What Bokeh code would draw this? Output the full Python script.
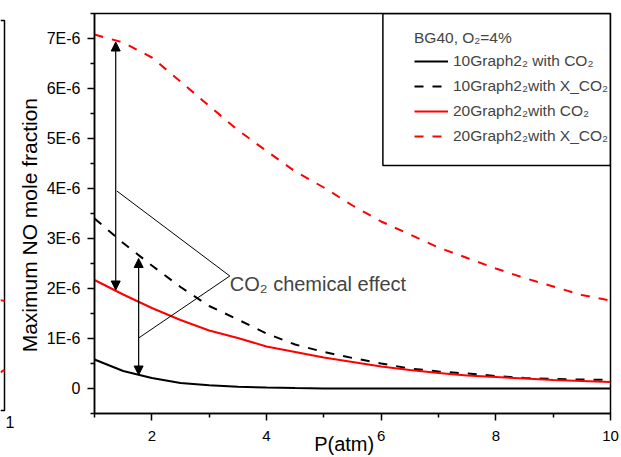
import math
from bokeh.plotting import figure
from bokeh.models import (Range1d, FixedTicker, Arrow, NormalHead, Legend, Label,
                          LegendItem, BoxAnnotation, LinearAxis)
from bokeh.layouts import row
from bokeh.embed import file_html
from bokeh.resources import INLINE

FONT = "Liberation Sans"
NBSP = "\u00a0"

# ---------------- data (NO mole fraction in units of 1E-6) ----------------
pressure_atm = [1.0, 1.5, 2.0, 2.5, 3.0, 3.5, 4.0, 4.5, 5.0, 5.5,
                6.0, 6.5, 7.0, 7.5, 8.0, 8.5, 9.0, 9.5, 10.0]
no_10g_co2 = [0.58, 0.35, 0.21, 0.11, 0.065, 0.035, 0.02, 0.008, 0.0, 0.0,
              0.0, 0.0, 0.0, 0.0, 0.0, 0.0, 0.0, 0.0, 0.0]
no_10g_xco2 = [3.40, 2.91, 2.46, 2.03, 1.65, 1.38, 1.10, 0.88, 0.73, 0.61,
               0.50, 0.40, 0.34, 0.30, 0.25, 0.21, 0.19, 0.18, 0.17]
no_20g_co2 = [2.17, 1.88, 1.61, 1.37, 1.16, 1.01, 0.84, 0.73, 0.62, 0.53,
              0.44, 0.37, 0.31, 0.26, 0.23, 0.20, 0.17, 0.15, 0.13]
no_20g_xco2 = [7.08, 6.92, 6.62, 6.14, 5.65, 5.17, 4.75, 4.34, 4.02, 3.66,
               3.34, 3.08, 2.82, 2.61, 2.40, 2.21, 2.04, 1.87, 1.76]

series_labels = ["10Graph2\u2082 with CO\u2082", "10Graph2\u2082with X_CO\u2082",
                 "20Graph2\u2082with CO\u2082", "20Graph2\u2082with X_CO\u2082"]
legend_title = "BG40, O\u2082=4%"
x_title = "P(atm)"
y_title = "Maximum NO mole fraction"

x_ticks = [2, 4, 6, 8, 10]
x_tick_labels = ["2", "4", "6", "8", "10"]
x_minor_ticks = [1, 3, 5, 7, 9]
y_ticks = [0, 1, 2, 3, 4, 5, 6, 7]
y_tick_labels = ["0", "1E-6", "2E-6", "3E-6", "4E-6", "5E-6", "6E-6", "7E-6"]
y_minor_ticks = [-0.5, 0.5, 1.5, 2.5, 3.5, 4.5, 5.5, 6.5, 7.5]

# neighbouring panel fragment (only its right edge is visible; y normalised 0..1 on its frame)
nb_frame_x = [9.92, 10.0, 10.0, 9.92]
nb_frame_y = [1.0, 1.0, 0.0, 0.0]
nb_ticks = [10]
nb_tick_labels = ["10"]
nb_x = [9.92, 10.0]
nb_red_upper = [0.283, 0.281]
nb_red_lower = [0.098, 0.104]

# ---------------- main figure ----------------
p = figure(width=607, height=457, x_range=Range1d(1, 10), y_range=Range1d(-0.5, 7.5),
           output_backend="svg", toolbar_location=None,
           min_border_left=77, min_border_right=11, min_border_top=13, min_border_bottom=44,
           background_fill_color="white", border_fill_color="white")
p.outline_line_color = "black"
p.outline_line_width = 1.5
p.grid.visible = False

p.xaxis.ticker = FixedTicker(ticks=x_ticks, minor_ticks=x_minor_ticks)
p.xaxis.major_label_overrides = dict(zip(x_ticks, x_tick_labels))
p.yaxis.ticker = FixedTicker(ticks=y_ticks, minor_ticks=y_minor_ticks)
p.yaxis.major_label_overrides = dict(zip(y_ticks, y_tick_labels))
for ax in (p.xaxis[0], p.yaxis[0]):
    ax.axis_line_width = 1.5
    ax.major_tick_line_width = 1.5
    ax.minor_tick_line_width = 1.5
    ax.major_tick_out = 7
    ax.major_tick_in = 0
    ax.minor_tick_out = 4
    ax.minor_tick_in = 0
    ax.major_label_text_font = FONT
    ax.major_label_text_color = "black"
    ax.axis_label_text_font = FONT
    ax.axis_label_text_font_style = "normal"
    ax.axis_label_text_color = "black"
p.xaxis.major_label_text_font_size = "15px"
p.yaxis.major_label_text_font_size = "16px"
p.xaxis.major_label_standoff = 10
p.yaxis.major_label_standoff = 7

# axis titles (non-breaking spaces shift the visible text off-centre as in the original)
p.xaxis.axis_label = x_title + NBSP * 3
p.xaxis.axis_label_text_font_size = "20px"
p.xaxis.axis_label_standoff = -11
p.yaxis.axis_label = y_title + NBSP * 4
p.yaxis.axis_label_text_font_size = "21px"
p.yaxis.axis_label_standoff = 3

r1 = p.line(pressure_atm, no_10g_co2, line_color="black", line_width=2)
r2 = p.line(pressure_atm, no_10g_xco2, line_color="black", line_width=2, line_dash="9 9")
r3 = p.line(pressure_atm, no_20g_co2, line_color="#ff0000", line_width=2)
r4 = p.line(pressure_atm, no_20g_xco2, line_color="#ff0000", line_width=2, line_dash="9 9")

# legend frame
p.add_layout(BoxAnnotation(left=6.03, right=10, bottom=4.46, top=7.5, fill_alpha=0,
                           line_color="black", line_width=1.5, line_alpha=1))

legend = Legend(
    items=[LegendItem(label=series_labels[i], renderers=[r]) for i, r in enumerate([r1, r2, r3, r4])],
    location=(320, 266), title=legend_title,
    title_text_font=FONT, title_text_font_size="15.5px", title_text_font_style="normal",
    title_standoff=3,
    label_text_font=FONT, label_text_font_size="15.5px",
    glyph_width=34, glyph_height=22, label_height=22, label_standoff=5, spacing=3,
    padding=0, margin=0, border_line_alpha=0, background_fill_alpha=0)
p.add_layout(legend)

# annotations: arrows and pointer lines
arrow_head = dict(size=9, fill_color="black", line_color="black")
p.add_layout(Arrow(start=NormalHead(**arrow_head), end=NormalHead(**arrow_head),
                   x_start=1.37, y_start=1.97, x_end=1.37, y_end=6.93, line_width=1.2))
p.add_layout(Arrow(start=NormalHead(**arrow_head), end=NormalHead(**arrow_head),
                   x_start=1.77, y_start=0.27, x_end=1.77, y_end=2.60, line_width=1.2))
p.line([1.39, 3.36], [3.95, 2.25], line_color="black", line_width=1)
p.line([1.77, 3.36], [1.01, 2.25], line_color="black", line_width=1)
p.add_layout(Label(x=3.36, y=2.094, text="CO\u2082 chemical effect", text_font=FONT,
                   text_font_size="20px", text_align="left", text_baseline="alphabetic"))

# ---------------- fragment of the neighbouring panel ----------------
# 14 px wide, frame 13..413 px (same as main); x=10 sits at 4 px, its own frame 20..410 px
f = figure(width=14, height=457, x_range=Range1d(9.92, 10.2),
           y_range=Range1d(-3 / 390, 1 + 7 / 390),
           output_backend="svg", toolbar_location=None,
           x_axis_location=None, y_axis_location=None,
           min_border_left=0, min_border_right=0, min_border_top=13, min_border_bottom=44,
           background_fill_color="white", border_fill_color="white")
f.outline_line_color = None
f.grid.visible = False
f.line(nb_frame_x, nb_frame_y, line_color="black", line_width=1.5)
f.line(nb_x, nb_red_upper, line_color="#ff0000", line_width=2)
f.line(nb_x, nb_red_lower, line_color="#ff0000", line_width=2)
fb = LinearAxis(ticker=FixedTicker(ticks=nb_ticks),
                major_label_overrides=dict(zip(nb_ticks, nb_tick_labels)),
                axis_line_alpha=0, major_tick_out=0, major_tick_in=0,
                minor_tick_out=0, minor_tick_in=0,
                major_label_standoff=2, major_label_text_font=FONT,
                major_label_text_font_size="16px", major_label_text_color="black")
f.add_layout(fb, "below")

layout = row(f, p)
open("out.html", "w").write(file_html(layout, INLINE))
